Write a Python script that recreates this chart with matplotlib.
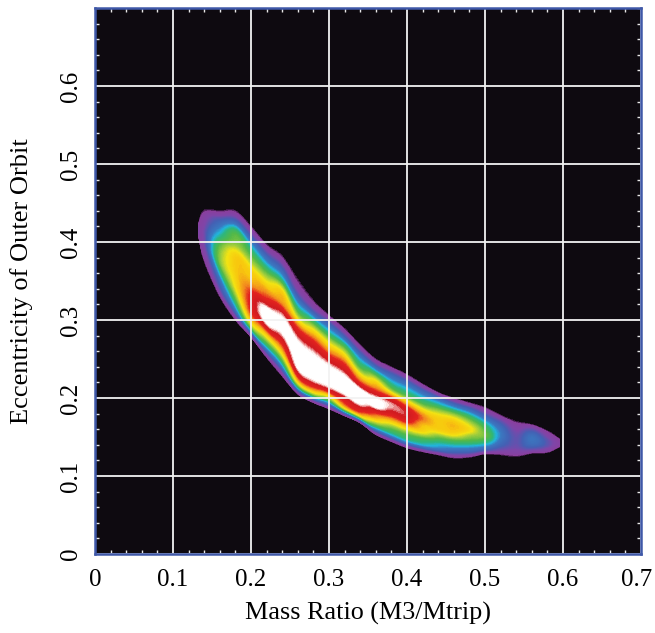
import numpy as np
import matplotlib
matplotlib.use("Agg")
import matplotlib.pyplot as plt
from matplotlib.colors import LinearSegmentedColormap
from matplotlib.transforms import ScaledTranslation

# Stations along the mass-ratio axis, with the lower and upper edge of the density band
mass_ratio = [.133, .14, .16, .18, .20, .22, .24, .26, .28, .30, .32, .34, .36,
              .38, .40, .42, .44, .46, .48, .50, .52, .54, .56, .58, .595]
ecc_low = [.405, .375, .33, .30, .278, .252, .228, .205, .194, .186, .177, .168, .153,
           .144, .136, .131, .127, .123, .124, .128, .127, .125, .129, .130, .137]
ecc_high = [.425, .441, .44, .44, .42, .397, .382, .352, .325, .306, .289, .268, .25,
            .24, .23, .218, .207, .20, .194, .188, .178, .17, .166, .158, .148]
# Density level read at 11 equal steps across the band (low edge to high edge)
density = [
    [0, .3, .6, .8, 1, 1, 1, .8, .6, .3, 0],
    [0, .5, .8, 1, 1.2, 1.2, 1.2, 1, .8, .5, 0],
    [0, 1.5, 2.5, 4, 5.3, 5.5, 5, 4, 3, 1.8, 0],
    [0, 2.8, 5, 6.5, 7, 7.2, 7, 5.5, 4.8, 2.2, 0],
    [0, 5.5, 8, 8.6, 8.4, 7.5, 7, 5.5, 4, 2, 0],
    [0, 3.8, 7, 9.5, 10, 8.6, 7.5, 6, 4, 2, 0],
    [0, 3.6, 7, 8.8, 9.9, 9.5, 7.8, 7, 4, 1.8, 0],
    [0, 6.5, 9.2, 10, 10, 9.2, 7.8, 5.2, 3, 1, 0],
    [0, 6.5, 9.2, 10, 10, 9.4, 8.4, 6.8, 4.2, 1.5, 0],
    [0, 5, 8.8, 10, 10, 9.2, 8, 6.5, 4.2, 2.2, 0],
    [0, 7, 8.8, 10, 10, 9.2, 8.2, 6.6, 4.5, 2, 0],
    [0, 7, 9.0, 10, 9.9, 8.5, 7, 5, 3.6, 1.8, 0],
    [0, 3.9, 7, 8.5, 10, 9.4, 8, 6.8, 4.5, 2, 0],
    [0, 3.6, 5.5, 7.6, 9, 9.4, 8, 5.2, 3.6, 2, 0],
    [0, 3.6, 5.2, 7.4, 8.9, 9, 7.5, 5, 3.6, 2, 0],
    [0, 3.4, 4.8, 6.8, 7.4, 8, 7, 5, 3.6, 2, 0],
    [0, 2.8, 4, 5.4, 7, 7.2, 7, 5.8, 4, 2.4, 0],
    [0, 2, 3.5, 5, 6.8, 7.4, 7.2, 6, 4, 2, 0],
    [0, 2, 3.4, 4.8, 5.8, 6.8, 6.2, 5, 3.5, 1.8, 0],
    [0, 2, 3.4, 4.6, 5.3, 5, 4.4, 3.4, 2.2, 1, 0],
    [0, 1, 1.8, 2.4, 2.8, 3, 2.8, 2.4, 1.8, 1, 0],
    [0, .7, 1.1, 1.4, 1.5, 1.5, 1.4, 1.2, .9, .5, 0],
    [0, 1, 1.8, 2.4, 2.7, 2.8, 2.6, 2.2, 1.6, .9, 0],
    [0, .6, 1, 1.4, 1.6, 1.6, 1.4, 1.1, .8, .4, 0],
    [0, .2, .4, .5, .6, .6, .5, .4, .3, .2, 0],
]
major_ticks = [0, .1, .2, .3, .4, .5, .6, .7]
x_tick_labels = ["0", "0.1", "0.2", "0.3", "0.4", "0.5", "0.6", "0.7"]
y_ticks = [0, .1, .2, .3, .4, .5, .6]
y_tick_labels = ["0", "0.1", "0.2", "0.3", "0.4", "0.5", "0.6"]


def smooth_resample(a, axis, k=6):
    """Catmull-Rom resampling, so the drawn density surface has no facets."""
    a = np.moveaxis(np.asarray(a, float), axis, 0)
    n = a.shape[0]
    idx = np.arange((n - 1) * k + 1) / k
    i = np.minimum(idx.astype(int), n - 2)
    t = (idx - i).reshape((-1,) + (1,) * (a.ndim - 1))
    p0, p1, p2, p3 = a[np.maximum(i - 1, 0)], a[i], a[i + 1], a[np.minimum(i + 2, n - 1)]
    out = 0.5 * (2 * p1 + (p2 - p0) * t + (2 * p0 - 5 * p1 + 4 * p2 - p3) * t ** 2
                 + (3 * p1 - p0 - 3 * p2 + p3) * t ** 3)
    return np.moveaxis(out, 0, axis)


plt.rcParams["font.family"] = ["Liberation Serif", "DejaVu Serif"]
W, H = 655, 633
fig = plt.figure(figsize=(W / 100, H / 100), dpi=100)
ax = fig.add_axes([95 / W, 1 - 554 / H, 546 / W, 546 / H])
BG = "#0e0a10"
ax.set_facecolor(BG)

stops = [(0, "#2a1030"), (.25, "#8a3f9e"), (1.1, "#7f45a8"), (2, "#4360b4"), (3, "#3a78c0"),
         (3.6, "#22b4dc"), (4.2, "#2fb67a"), (5, "#52b848"), (5.9, "#a6cf3a"), (6.6, "#f3e312"),
         (7.3, "#f8c80e"), (7.9, "#f28a1e"), (8.4, "#e3231f"), (9.2, "#d01a20"),
         (9.55, "#fbe0dc"), (9.7, "#ffffff"), (10, "#ffffff")]
cmap = LinearSegmentedColormap.from_list("band", [(v / 10, c) for v, c in stops], N=512)

d = smooth_resample(smooth_resample(density, 0), 1)
d = np.clip(d, 0, 10)
d[:, 0] = 0
d[:, -1] = 0
frac = np.linspace(0, 1, d.shape[1])
xs = smooth_resample(mass_ratio, 0)
lo = smooth_resample(ecc_low, 0)
hi = smooth_resample(ecc_high, 0)
X = np.repeat(xs[:, None], d.shape[1], axis=1)
Y = lo[:, None] + frac * (hi - lo)[:, None]
ax.contourf(X, Y, d, levels=np.linspace(0, 10.01, 121), cmap=cmap, vmin=0, vmax=10, zorder=1,
            antialiased=False)

ax.set_xlim(0, .7)
ax.set_ylim(0, .7)
ax.set_xticks(major_ticks)
ax.set_xticklabels(x_tick_labels)
ax.set_yticks(y_ticks)
ax.set_yticklabels(y_tick_labels, rotation=90, va="center")
ax.set_xticks(np.arange(0, .7001, .02), minor=True)
ax.set_yticks(np.arange(0, .7001, .02), minor=True)
ax.grid(True, which="major", color="#f2f2f2", lw=1.3, zorder=2)
ax.set_axisbelow(False)
ax.tick_params(which="major", length=0, labelsize=18, pad=11, colors="black")
ax.tick_params(axis="y", which="major", pad=9)
ax.tick_params(which="minor", direction="in", length=3, width=1, color="#e8e8e8",
               top=True, right=True, bottom=True, left=True)
# keep the last x label wholly inside the picture
last = ax.get_xticklabels()[-1]
last.set_transform(last.get_transform() + ScaledTranslation(-3 / 72, 0, fig.dpi_scale_trans))
for s in ax.spines.values():
    s.set_color("#3f58a8")
    s.set_linewidth(1.8)
    s.set_zorder(5)
ax.set_xlabel("Mass Ratio (M3/Mtrip)", fontsize=18.8, labelpad=8)
ax.set_ylabel("Eccentricity of Outer Orbit", fontsize=19, labelpad=20)
fig.savefig("out.png", dpi=100, facecolor="white")
